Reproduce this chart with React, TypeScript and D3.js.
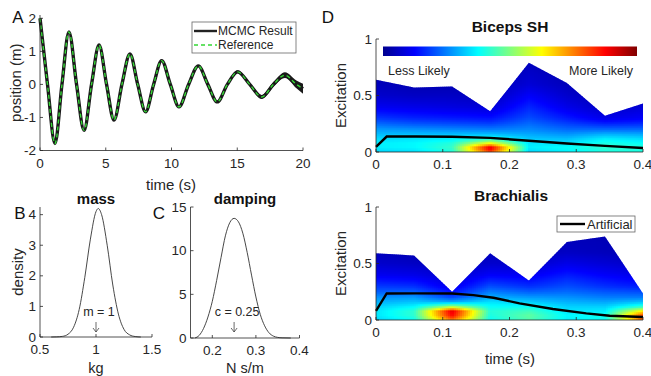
import * as d3 from "d3"

const FONT = "'Liberation Sans', Arial, Helvetica, sans-serif"
const INK = "#262626"

// A: position of the damped oscillator (reference and MCMC estimate overlap)
const aTime = [0, 0.57, 1.14, 1.67, 2.2, 2.78, 3.35, 3.92, 4.49, 5.06, 5.63, 6.23, 6.84, 7.43, 8.03, 8.64, 9.25, 9.91, 10.57, 11.3, 12.04, 12.76, 13.48, 14.25, 15.03, 15.95, 16.86, 17.75, 18.63, 19.5, 20]
const aPos = [2.0, 0, -1.79, 0, 1.59, 0, -1.39, 0, 1.19, 0, -1.08, 0, 0.92, 0, -0.83, 0, 0.72, 0, -0.68, 0, 0.56, 0, -0.53, 0, 0.38, 0, -0.38, 0, 0.28, 0, -0.13]
const aSpread = [0.01, 0.01, 0.01, 0.01, 0.01, 0.01, 0.01, 0.01, 0.01, 0.01, 0.01, 0.01, 0.01, 0.01, 0.015, 0.015, 0.02, 0.02, 0.025, 0.025, 0.03, 0.03, 0.035, 0.04, 0.045, 0.05, 0.06, 0.07, 0.09, 0.12, 0.15]
const aTicksX = [0, 5, 10, 15, 20]
const aTicksY = [-2, -1, 0, 1, 2]

// B: posterior density of mass
const massX = [0.6, 0.65, 0.7, 0.75, 0.8, 0.85, 0.9, 0.95, 1.0, 1.02, 1.05, 1.1, 1.15, 1.2, 1.25, 1.3, 1.35, 1.4]
const massY = [0, 0.005, 0.02, 0.09, 0.32, 0.9, 1.95, 3.2, 4.1, 4.2, 4.0, 3.0, 1.7, 0.75, 0.25, 0.07, 0.015, 0]
const massTicksX = [0.5, 1, 1.5]
const massTicksY = [0, 1, 2, 3, 4]

// C: posterior density of damping
const dampX = [0.16, 0.17, 0.18, 0.19, 0.2, 0.21, 0.22, 0.23, 0.24, 0.25, 0.26, 0.27, 0.28, 0.29, 0.3, 0.31, 0.32, 0.33, 0.34, 0.35, 0.36, 0.38]
const dampY = [0, 0.3, 1.1, 2.4, 4.2, 6.6, 9.2, 11.7, 13.2, 13.7, 13.3, 12.0, 9.8, 7.2, 4.7, 2.7, 1.4, 0.6, 0.22, 0.07, 0.02, 0]
const dampTicksX = [0.2, 0.3, 0.4]
const dampTicksY = [0, 5, 10, 15]

// D: excitation likelihood maps
const dTimes = [0, 0.057, 0.114, 0.171, 0.229, 0.286, 0.343, 0.4]
const dLevels = [0, 0.04, 0.08, 0.12, 0.16, 0.2, 0.25, 0.3, 0.4, 0.5, 0.6, 0.8]
const dTicksX = [0, 0.1, 0.2, 0.3, 0.4]
const dTicksY = [0, 0.5, 1]

const bicepsUpper = [0.64, 0.57, 0.58, 0.36, 0.79, 0.61, 0.32, 0.43]
const bicepsDensity = [
  [0.33, 0.36, 0.36, 0.34, 0.31, 0.28, 0.23, 0.18, 0.11, 0.07, 0.05, 0.03],
  [0.34, 0.37, 0.37, 0.35, 0.31, 0.27, 0.21, 0.16, 0.1, 0.06, 0.04, 0.03],
  [0.4, 0.43, 0.41, 0.36, 0.31, 0.26, 0.2, 0.15, 0.09, 0.06, 0.04, 0.03],
  [0.8, 0.92, 0.62, 0.4, 0.31, 0.25, 0.19, 0.14, 0.08, 0.05, 0.04, 0.03],
  [0.33, 0.36, 0.35, 0.32, 0.29, 0.26, 0.23, 0.2, 0.16, 0.12, 0.08, 0.05],
  [0.36, 0.38, 0.35, 0.31, 0.27, 0.23, 0.19, 0.15, 0.1, 0.07, 0.05, 0.03],
  [0.4, 0.42, 0.4, 0.36, 0.3, 0.23, 0.16, 0.1, 0.06, 0.04, 0.03, 0.03],
  [0.4, 0.41, 0.38, 0.34, 0.29, 0.23, 0.17, 0.12, 0.08, 0.05, 0.04, 0.03],
]
const bicepsLineT = [0, 0.016, 0.06, 0.114, 0.171, 0.229, 0.286, 0.343, 0.4]
const bicepsLineV = [0.045, 0.137, 0.137, 0.135, 0.125, 0.1, 0.075, 0.054, 0.036]

const brachUpper = [0.59, 0.57, 0.25, 0.59, 0.35, 0.69, 0.74, 0.235]
const brachDensity = [
  [0.33, 0.35, 0.35, 0.33, 0.3, 0.27, 0.22, 0.18, 0.11, 0.07, 0.05, 0.03],
  [0.38, 0.42, 0.42, 0.37, 0.32, 0.28, 0.22, 0.17, 0.1, 0.06, 0.04, 0.03],
  [0.75, 0.87, 0.9, 0.55, 0.3, 0.2, 0.14, 0.1, 0.07, 0.05, 0.04, 0.03],
  [0.38, 0.4, 0.41, 0.38, 0.35, 0.3, 0.25, 0.2, 0.12, 0.07, 0.05, 0.03],
  [0.45, 0.47, 0.44, 0.38, 0.33, 0.28, 0.22, 0.17, 0.11, 0.07, 0.05, 0.03],
  [0.36, 0.37, 0.35, 0.33, 0.3, 0.27, 0.23, 0.2, 0.15, 0.1, 0.06, 0.04],
  [0.38, 0.39, 0.36, 0.33, 0.29, 0.25, 0.21, 0.17, 0.12, 0.08, 0.05, 0.04],
  [0.78, 0.82, 0.65, 0.42, 0.32, 0.25, 0.2, 0.15, 0.1, 0.06, 0.04, 0.03],
]
const brachLineT = [0, 0.016, 0.06, 0.114, 0.146, 0.176, 0.215, 0.265, 0.315, 0.35, 0.4]
const brachLineV = [0.08, 0.235, 0.236, 0.235, 0.22, 0.197, 0.147, 0.097, 0.059, 0.038, 0.026]

const jetStops = [0, 0.125, 0.375, 0.625, 0.875, 1]
const jetColors = ["#00008f", "#0000ff", "#00ffff", "#ffff00", "#ff0000", "#800000"]
const jet = d3.scaleLinear<string>().domain(jetStops).range(jetColors).clamp(true)

type Lin = d3.ScaleLinear<number, number>

function Axes({ x, y, xTicks, yTicks }: { x: Lin; y: Lin; xTicks: number[]; yTicks: number[] }) {
  const [x0, x1] = x.range()
  const [y0, y1] = y.range()
  return (
    <g fill={INK} fontSize={13.5}>
      <line x1={x0} x2={x1} y1={y0} y2={y0} stroke={INK} strokeWidth={0.8} />
      <line x1={x0} x2={x0} y1={y0} y2={y1} stroke={INK} strokeWidth={0.8} />
      {xTicks.map((t) => (
        <g key={"x" + t}>
          <line x1={x(t)} x2={x(t)} y1={y0} y2={y0 - 3} stroke={INK} strokeWidth={0.8} />
          <text x={x(t)} y={y0 + 12.5} textAnchor="middle" dominantBaseline="central">
            {String(t)}
          </text>
        </g>
      ))}
      {yTicks.map((t) => (
        <g key={"y" + t}>
          <line x1={x0} x2={x0 + 3} y1={y(t)} y2={y(t)} stroke={INK} strokeWidth={0.8} />
          <text x={x0 - 4} y={y(t)} textAnchor="end" dominantBaseline="central">
            {String(t)}
          </text>
        </g>
      ))}
    </g>
  )
}

function Heat({ x, y, upper, density, id }: { x: Lin; y: Lin; upper: number[]; density: number[][]; id: string }) {
  const cols = density.map((c) => d3.scaleLinear().domain(dLevels).range(c).clamp(true))
  const tIdx = d3.scaleLinear().domain(dTimes).range(d3.range(dTimes.length)).clamp(true)
  const step = 2
  const [px0, px1] = x.range()
  const yBottom = y(0)
  const yTop = y(d3.max(upper) || 1)
  const cells: JSX.Element[] = []
  for (let px = px0; px < px1; px += step) {
    const fi = tIdx(x.invert(px + step / 2))
    const i = Math.min(Math.floor(fi), dTimes.length - 2)
    const f = fi - i
    for (let py = yBottom - step; py > yTop - step; py -= step) {
      const v = y.invert(py + step / 2)
      const val = (1 - f) * cols[i](v) + f * cols[i + 1](v)
      cells.push(<rect key={px + "_" + py} x={px} y={py} width={step + 0.3} height={step + 0.3} fill={jet(val)} />)
    }
  }
  const clip = d3
    .area<number>()
    .x((_, i) => x(dTimes[i]))
    .y0(yBottom)
    .y1((d) => y(d))(upper)
  return (
    <g>
      <defs>
        <clipPath id={id}>
          <path d={clip || ""} />
        </clipPath>
      </defs>
      <g clipPath={`url(#${id})`}>{cells}</g>
    </g>
  )
}

function DensityPanel({
  x, y, xs, ys, xTicks, yTicks, title, letter, letterX, xLabel, trueVal, trueText,
}: {
  x: Lin; y: Lin; xs: number[]; ys: number[]; xTicks: number[]; yTicks: number[]
  title: string; letter: string; letterX: number; xLabel: string; trueVal: number; trueText: string
}) {
  const line = d3
    .line<number>()
    .x((d) => x(d))
    .y((_, i) => y(ys[i]))
    .curve(d3.curveMonotoneX)(xs)
  const [x0, x1] = x.range()
  const cx = (x0 + x1) / 2
  const ax = x(trueVal)
  return (
    <g>
      <path d={line || ""} fill="none" stroke="#333" strokeWidth={0.9} />
      <Axes x={x} y={y} xTicks={xTicks} yTicks={yTicks} />
      <text x={cx} y={198} textAnchor="middle" dominantBaseline="central" fontWeight="bold" fontSize={15} fill="#111">
        {title}
      </text>
      <text x={letterX} y={213} textAnchor="middle" dominantBaseline="central" fontSize={17} fill="#111">
        {letter}
      </text>
      <text x={cx} y={368} textAnchor="middle" dominantBaseline="central" fontSize={14.5} fill={INK}>
        {xLabel}
      </text>
      <text x={ax + 3} y={312} textAnchor="middle" dominantBaseline="central" fontSize={12.5} fill={INK}>
        {trueText}
      </text>
      <path d={`M${ax},322 L${ax},332 M${ax - 3},328 L${ax},332 L${ax + 3},328`} fill="none" stroke="#444" strokeWidth={0.8} />
    </g>
  )
}

export default function App() {
  // Panel A
  const ax = d3.scaleLinear().domain([0, 20]).range([40, 303])
  const ay = d3.scaleLinear().domain([-2, 2.1]).range([150.5, 15])
  const aLine = d3
    .line<number>()
    .x((d) => ax(d))
    .y((_, i) => ay(aPos[i]))
    .curve(d3.curveMonotoneX)(aTime)
  const aBand = d3
    .area<number>()
    .x((d) => ax(d))
    .y0((_, i) => ay(aPos[i] - aSpread[i]))
    .y1((_, i) => ay(aPos[i] + aSpread[i]))
    .curve(d3.curveMonotoneX)(aTime)

  // Panels B, C
  const bx = d3.scaleLinear().domain([0.5, 1.5]).range([40, 152])
  const by = d3.scaleLinear().domain([0, 4.25]).range([337, 207])
  const cx = d3.scaleLinear().domain([0.15, 0.4]).range([190.5, 299.5])
  const cy = d3.scaleLinear().domain([0, 15]).range([338, 207])

  // Panel D
  const dx = d3.scaleLinear().domain([0, 0.4]).range([376, 643])
  const dy1 = d3.scaleLinear().domain([0, 1]).range([152, 39])
  const dy2 = d3.scaleLinear().domain([0, 1]).range([320, 207])
  const lineD = (ts: number[], vs: number[], y: Lin) =>
    d3
      .line<number>()
      .x((d) => dx(d))
      .y((_, i) => y(vs[i]))(ts) || ""

  return (
    <svg
      width={651}
      height={376}
      style={{ position: "absolute", left: 0, top: 0, background: "#fff" }}
      fontFamily={FONT}
    >
      {/* A */}
      <path d={aBand || ""} fill="#1a1a1a" />
      <path d={aLine || ""} fill="none" stroke="#1a1a1a" strokeWidth={3.4} />
      <path d={aLine || ""} fill="none" stroke="#35d835" strokeWidth={1.4} strokeDasharray="4,3" />
      <Axes x={ax} y={ay} xTicks={aTicksX} yTicks={aTicksY} />
      <text x={18} y={17} textAnchor="middle" dominantBaseline="central" fontSize={17} fill="#111">
        A
      </text>
      <text x={171} y={184} textAnchor="middle" dominantBaseline="central" fontSize={15} fill={INK}>
        time (s)
      </text>
      <text
        transform={`translate(15,${(ay.range()[0] + ay.range()[1]) / 2}) rotate(-90)`}
        textAnchor="middle"
        dominantBaseline="central"
        fontSize={15}
        fill={INK}
      >
        position (m)
      </text>
      <g>
        <rect x={192} y={22} width={104} height={31} fill="#fff" stroke="#666" strokeWidth={0.8} />
        <line x1={194} x2={217} y1={31} y2={31} stroke="#222" strokeWidth={2.4} />
        <line x1={194} x2={217} y1={45} y2={45} stroke="#35d835" strokeWidth={1.6} strokeDasharray="4,3" />
        <text x={218} y={31} dominantBaseline="central" fontSize={12} fill={INK}>
          MCMC Result
        </text>
        <text x={218} y={45} dominantBaseline="central" fontSize={12} fill={INK}>
          Reference
        </text>
      </g>

      {/* B */}
      <DensityPanel
        x={bx} y={by} xs={massX} ys={massY} xTicks={massTicksX} yTicks={massTicksY}
        title="mass" letter="B" letterX={20} xLabel="kg" trueVal={1} trueText="m = 1"
      />
      <text transform={`translate(17,272) rotate(-90)`} textAnchor="middle" dominantBaseline="central" fontSize={15} fill={INK}>
        density
      </text>

      {/* C */}
      <DensityPanel
        x={cx} y={cy} xs={dampX} ys={dampY} xTicks={dampTicksX} yTicks={dampTicksY}
        title="damping" letter="C" letterX={159} xLabel="N s/m" trueVal={0.25} trueText="c = 0.25"
      />

      {/* D */}
      <Heat x={dx} y={dy1} upper={bicepsUpper} density={bicepsDensity} id="clipBiceps" />
      <path d={lineD(bicepsLineT, bicepsLineV, dy1)} fill="none" stroke="#000" strokeWidth={2.4} />
      <Axes x={dx} y={dy1} xTicks={dTicksX} yTicks={dTicksY} />
      <Heat x={dx} y={dy2} upper={brachUpper} density={brachDensity} id="clipBrach" />
      <path d={lineD(brachLineT, brachLineV, dy2)} fill="none" stroke="#000" strokeWidth={2.4} />
      <Axes x={dx} y={dy2} xTicks={dTicksX} yTicks={dTicksY} />

      <defs>
        <linearGradient id="jetGrad" x1="0" x2="1" y1="0" y2="0">
          {jetStops.map((s, i) => (
            <stop key={s} offset={s} stopColor={jetColors[i]} />
          ))}
        </linearGradient>
      </defs>
      <rect x={383} y={46.5} width={254} height={9.5} fill="url(#jetGrad)" />
      <text x={388} y={71} dominantBaseline="central" fontSize={12.5} fill={INK}>
        Less Likely
      </text>
      <text x={633} y={71} textAnchor="end" dominantBaseline="central" fontSize={12.5} fill={INK}>
        More Likely
      </text>

      <text x={328} y={17} textAnchor="middle" dominantBaseline="central" fontSize={17} fill="#111">
        D
      </text>
      <text x={510} y={26} textAnchor="middle" dominantBaseline="central" fontWeight="bold" fontSize={15.5} fill="#111">
        Biceps SH
      </text>
      <text x={511} y={195} textAnchor="middle" dominantBaseline="central" fontWeight="bold" fontSize={15.5} fill="#111">
        Brachialis
      </text>
      <text transform={`translate(340,95.5) rotate(-90)`} textAnchor="middle" dominantBaseline="central" fontSize={15} fill={INK}>
        Excitation
      </text>
      <text transform={`translate(340,263.5) rotate(-90)`} textAnchor="middle" dominantBaseline="central" fontSize={15} fill={INK}>
        Excitation
      </text>
      <text x={510} y={358} textAnchor="middle" dominantBaseline="central" fontSize={15} fill={INK}>
        time (s)
      </text>
      <g>
        <rect x={557} y={216} width={78} height={16} fill="#fff" stroke="#666" strokeWidth={0.8} />
        <line x1={560} x2={585} y1={224} y2={224} stroke="#000" strokeWidth={2.4} />
        <text x={587} y={224} dominantBaseline="central" fontSize={13} fill={INK}>
          Artificial
        </text>
      </g>
    </svg>
  )
}
